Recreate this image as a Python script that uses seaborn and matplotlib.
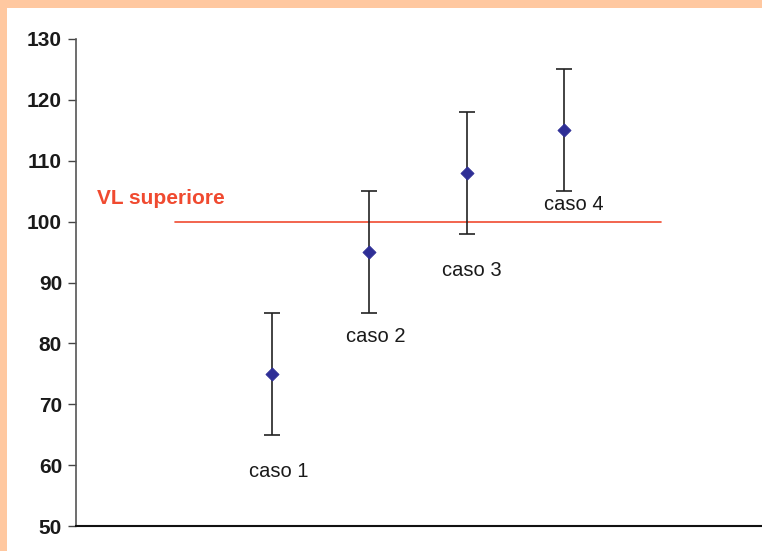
import matplotlib
matplotlib.use("Agg")
import matplotlib.pyplot as plt
from matplotlib.patches import Rectangle
import pandas as pd
import seaborn as sns

# data
cases = ["caso 1", "caso 2", "caso 3", "caso 4"]
positions = [1, 2, 3, 4]
means = [75, 95, 108, 115]
errors = [10, 10, 10, 10]
label_y = [58.0, 80.2, 91.1, 101.9]
label_dx = [0.07, 0.07, 0.05, 0.1]
limit_value = 100
limit_label = "VL superiore"
y_ticks = [50, 60, 70, 80, 90, 100, 110, 120, 130]

sns.set_style("white")
plt.rcParams['font.family'] = ['Liberation Sans', 'DejaVu Sans']

df = pd.DataFrame({"caso": cases, "x": positions, "y": means, "err": errors})

fig = plt.figure(figsize=(7.62, 5.51), dpi=100)
fig.patch.set_facecolor("white")
peach = "#FFC8A0"
fig.patches.append(Rectangle((0, 1 - 8 / 551), 1, 8 / 551, transform=fig.transFigure,
                             facecolor=peach, edgecolor="none", zorder=0))
fig.patches.append(Rectangle((0, 0), 7 / 762, 1, transform=fig.transFigure,
                             facecolor=peach, edgecolor="none", zorder=0))

ax = fig.add_axes([76 / 762, 1 - 526 / 551, 685 / 762, 487 / 551])
ax.set_facecolor("none")

# upper limit line
ax.plot([0, 5], [limit_value, limit_value], color="#F04A30", lw=1.2, zorder=1)
ax.text(-0.8, 102.9, limit_label, color="#F04A30", fontsize=15,
        fontweight="bold", ha="left", va="baseline")

# error bars and diamonds
ax.errorbar(df["x"], df["y"], yerr=df["err"], fmt="none", ecolor="#222222",
            elinewidth=1.2, capsize=6, capthick=1.2, zorder=2)
sns.scatterplot(data=df, x="x", y="y", marker="D", s=45, color="#2E2E96",
                edgecolor="#2E2E96", ax=ax, zorder=3, legend=False)

for xp, ly, dx, name in zip(positions, label_y, label_dx, cases):
    ax.text(xp + dx, ly, name, fontsize=14.5, ha="center", va="baseline", color="#1a1a1a")

ax.set_xlim(-1.014, 6.024)
ax.set_ylim(50, 130)
ax.set_yticks(y_ticks)
ax.set_xticks([])
ax.set_xlabel("")
ax.set_ylabel("")

for lab in ax.get_yticklabels():
    lab.set_fontweight("bold")
ax.tick_params(axis="y", length=6, width=1, color="#444444", direction="out",
               pad=4, labelsize=15, labelcolor="#1a1a1a", left=True)

sns.despine(ax=ax, top=True, right=True)
ax.spines["left"].set_color("#555555")
ax.spines["left"].set_linewidth(1.2)
ax.spines["bottom"].set_color("#111111")
ax.spines["bottom"].set_linewidth(1.5)

fig.savefig("out.png", dpi=100)
